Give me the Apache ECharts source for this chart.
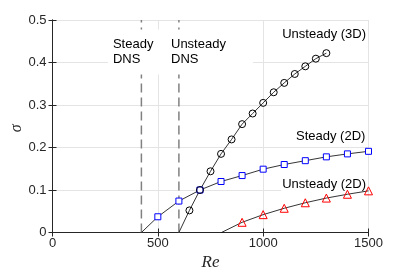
<!DOCTYPE html>
<html>
<head>
<meta charset="utf-8">
<script src="https://cdn.jsdelivr.net/npm/echarts@6/dist/echarts.min.js"></script>
<style>html,body{margin:0;padding:0;background:#fff;}#c{width:407px;height:271px;}</style>
</head>
<body>
<div id="c"></div>
<script>
// ---- data ----
const xTicks = [0, 500, 1000, 1500];
const yTicks = [0, 0.1, 0.2, 0.3, 0.4, 0.5];

const steadyDNS = 422;      // dashed line, Re
const unsteadyDNS = 600;    // dashed line, Re

const steady2D_onset = 422;
const steady2D_Re = [500, 600, 700, 800, 900, 1000, 1100, 1200, 1300, 1400, 1500];
const steady2D_sigma = [0.037, 0.074, 0.100, 0.120, 0.134, 0.149, 0.160, 0.169, 0.178, 0.185, 0.191];

const unsteady3D_onset = 600;
const unsteady3D_Re = [650, 700, 750, 800, 850, 900, 950, 1000, 1050, 1100, 1150, 1200, 1250, 1300];
const unsteady3D_sigma = [0.052, 0.100, 0.144, 0.185, 0.219, 0.255, 0.280, 0.305, 0.330, 0.352, 0.373, 0.391, 0.409, 0.422];

const unsteady2D_onset = 802;
const unsteady2D_Re = [900, 1000, 1100, 1200, 1300, 1400, 1500];
const unsteady2D_sigma = [0.024, 0.042, 0.057, 0.070, 0.081, 0.090, 0.098];

const labelTexts = ['Steady\nDNS', 'Unsteady\nDNS', 'Unsteady (3D)', 'Steady (2D)', 'Unsteady (2D)'];
const labelRe = [263, 515, 1493, 1490, 1493];
const labelSigma = [0.425, 0.425, 0.465, 0.225, 0.112];

const yName = 'σ';
const xName = 'Re';

// ---- build ----
function build(onset, xs, ys) {
  const d = [{ value: [onset, 0], symbol: 'none' }];
  xs.forEach((x, i) => d.push([x, ys[i]]));
  return d;
}
const font = '"Liberation Sans", Arial, Helvetica, sans-serif';
const serif = '"Liberation Serif", "DejaVu Serif", serif';
const axisColor = '#262626';

const chart = echarts.init(document.getElementById('c'), null, { renderer: 'canvas' });

const labelStyles = [
  { align: 'left', padding: [8, 12, 7, 5] },
  { align: 'left', padding: [8, 27, 7, 10] },
  { align: 'right', padding: [1, 1, 1, 1] },
  { align: 'right', padding: [1, 1, 1, 1] },
  { align: 'right', padding: [1, 1, 1, 1] }
];

const commonAxisLine = { show: true, lineStyle: { color: axisColor, width: 1 } };
const dashStyle = { color: '#808080', width: 1.5, type: [9, 5] };

chart.setOption({
  animation: false,
  backgroundColor: '#fff',
  grid: { left: 52.5, right: 38.5, top: 20, bottom: 38.5, containLabel: false, outerBoundsMode: 'none' },
  xAxis: [{
    type: 'value', min: 0, max: 1500, interval: 500,
    name: xName, nameLocation: 'middle', nameGap: 20,
    nameTextStyle: { fontFamily: serif, fontStyle: 'italic', fontSize: 17, color: axisColor },
    axisLine: commonAxisLine,
    axisTick: { show: true, inside: true, length: 4, lineStyle: { color: axisColor } },
    axisLabel: { margin: 4, color: axisColor, fontFamily: font, fontSize: 13, formatter: v => String(v) },
    splitLine: { show: true, lineStyle: { color: '#e4e4e4', width: 1 } }
  }, {
    type: 'value', min: 0, max: 1500, interval: 500, position: 'top',
    axisLine: commonAxisLine,
    axisTick: { show: true, inside: true, length: 4, lineStyle: { color: axisColor } },
    axisLabel: { show: false }, splitLine: { show: false }
  }],
  yAxis: [{
    type: 'value', min: 0, max: 0.5, interval: 0.1,
    axisLine: commonAxisLine,
    axisTick: { show: true, inside: true, length: 4, lineStyle: { color: axisColor } },
    axisLabel: { margin: 6, color: axisColor, fontFamily: font, fontSize: 13, formatter: v => String(Math.round(v * 10) / 10) },
    splitLine: { show: true, lineStyle: { color: '#e4e4e4', width: 1 } }
  }, {
    type: 'value', min: 0, max: 0.5, interval: 0.1, position: 'right',
    axisLine: commonAxisLine,
    axisTick: { show: true, inside: true, length: 4, lineStyle: { color: axisColor } },
    axisLabel: { show: false }, splitLine: { show: false }
  }],
  series: [
    {
      name: 'Steady DNS', type: 'line', z: 1, symbol: 'none', silent: true,
      data: [[steadyDNS, 0], [steadyDNS, 0.5]],
      lineStyle: dashStyle
    },
    {
      name: 'Unsteady DNS', type: 'line', z: 1, symbol: 'none', silent: true,
      data: [[unsteadyDNS, 0], [unsteadyDNS, 0.5]],
      lineStyle: dashStyle
    },
    {
      name: 'Steady (2D)', type: 'line', z: 3,
      data: build(steady2D_onset, steady2D_Re, steady2D_sigma),
      symbol: 'rect', symbolSize: 6, showAllSymbol: true,
      lineStyle: { color: '#000', width: 0.8 },
      itemStyle: { color: '#fff', borderColor: '#0000ff', borderWidth: 1 }
    },
    {
      name: 'Unsteady (3D)', type: 'line', z: 3,
      data: build(unsteady3D_onset, unsteady3D_Re, unsteady3D_sigma),
      symbol: 'circle', symbolSize: 7, showAllSymbol: true,
      lineStyle: { color: '#000', width: 0.8 },
      itemStyle: { color: 'rgba(255,255,255,0)', borderColor: '#000', borderWidth: 1 }
    },
    {
      name: 'Unsteady (2D)', type: 'line', z: 3,
      data: build(unsteady2D_onset, unsteady2D_Re, unsteady2D_sigma),
      symbol: 'triangle', symbolSize: 8, showAllSymbol: true,
      lineStyle: { color: '#000', width: 0.8 },
      itemStyle: { color: 'rgba(255,255,255,0)', borderColor: '#ff0000', borderWidth: 1 }
    }
  ]
});

// text annotations placed through the axes' own scales
const graphics = labelTexts.map((t, i) => {
  const p = chart.convertToPixel({ xAxisIndex: 0, yAxisIndex: 0 }, [labelRe[i], labelSigma[i]]);
  return {
    type: 'text', x: p[0], y: p[1], z: 2, silent: true,
    style: {
      text: t,
      fill: '#000',
      font: '13px ' + font,
      lineHeight: 15,
      align: labelStyles[i].align,
      verticalAlign: 'middle',
      backgroundColor: '#fff',
      padding: labelStyles[i].padding
    }
  };
});
// y-axis title, centred on the y axis range
const midY = chart.convertToPixel({ yAxisIndex: 0 }, 0.25);
graphics.push({
  type: 'text', x: 17, y: midY + 2, rotation: Math.PI / 2, z: 2, silent: true,
  style: {
    text: yName, fill: axisColor,
    font: 'italic 16px ' + serif,
    align: 'center', verticalAlign: 'middle'
  }
});
chart.setOption({ graphic: graphics });
</script>
</body>
</html>
